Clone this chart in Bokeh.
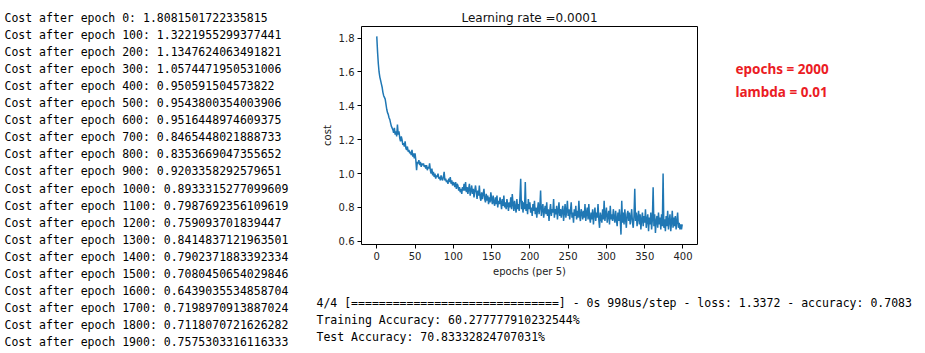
from bokeh.plotting import figure
from bokeh.models import Label, Range1d, SingleIntervalTicker, PrintfTickFormatter, ColumnDataSource
from bokeh.layouts import row, column
from bokeh.embed import file_html
from bokeh.resources import INLINE

# ---------------- data ----------------
epoch_steps = [0, 100, 200, 300, 400, 500, 600, 700, 800, 900,
               1000, 1100, 1200, 1300, 1400, 1500, 1600, 1700, 1800, 1900]
epoch_costs = ["1.8081501722335815", "1.3221955299377441", "1.1347624063491821",
               "1.0574471950531006", "0.950591504573822", "0.9543800354003906",
               "0.9516448974609375", "0.8465448021888733", "0.8353669047355652",
               "0.9203358292579651", "0.8933315277099609",
               "0.7987692356109619", "0.759093701839447", "0.8414837121963501",
               "0.7902371883392334", "0.7080450654029846", "0.6439035534858704",
               "0.7198970913887024", "0.7118070721626282", "0.7575303316116333"]

cost_curve = [
    1.81, 1.72, 1.65, 1.60, 1.57, 1.55, 1.53, 1.51, 1.48, 1.46,
    1.45, 1.44, 1.41, 1.38, 1.36, 1.35, 1.33, 1.32, 1.30, 1.28,
    1.27, 1.26, 1.24, 1.27, 1.23, 1.25, 1.22, 1.29, 1.23, 1.25,
    1.21, 1.19, 1.22, 1.20, 1.17, 1.18, 1.16, 1.19, 1.15, 1.14,
    1.16, 1.13, 1.14, 1.12, 1.13, 1.11, 1.14, 1.10, 1.12, 1.09,
    1.12, 1.08, 1.02, 1.07, 1.06, 1.08, 1.05, 1.07, 1.04, 1.06,
    1.05, 1.06, 1.04, 1.05, 1.03, 1.05, 1.02, 1.04, 1.03, 1.06,
    1.02, 1.00, 1.03, 0.99, 1.01, 0.98, 1.00, 0.97, 0.99, 0.98,
    1.00, 0.97, 0.98, 0.96, 0.99, 0.97, 0.96, 0.98, 1.01, 0.96,
    0.97, 0.95, 0.96, 0.94, 0.97, 0.95, 0.98, 0.94, 0.96, 0.93,
    0.95, 0.94, 0.92, 0.95, 0.91, 0.94, 0.93, 0.90, 0.92, 0.89,
    0.91, 0.88, 0.92, 0.90, 0.94, 0.90, 0.95, 0.89, 0.92, 0.88,
    0.91, 0.94, 0.87, 0.90, 0.93, 0.88, 0.91, 0.86, 0.90, 0.93,
    0.89, 0.85, 0.90, 0.87, 0.93, 0.86, 0.84, 0.89, 0.85, 0.88,
    0.91, 0.85, 0.83, 0.88, 0.84, 0.87, 0.82, 0.86, 0.83, 0.89,
    0.85, 0.82, 0.87, 0.83, 0.81, 0.86, 0.82, 0.87, 0.80, 0.84,
    0.82, 0.86, 0.83, 0.79, 0.85, 0.81, 0.87, 0.80, 0.83, 0.79,
    0.85, 0.82, 0.78, 0.83, 0.80, 0.86, 0.79, 0.88, 0.82, 0.78,
    0.84, 0.80, 0.77, 0.85, 0.79, 0.82, 0.78, 0.86, 0.97, 0.79,
    0.84, 0.77, 0.83, 0.79, 0.95, 0.78, 0.82, 0.76, 0.85, 0.79,
    0.83, 0.77, 0.80, 0.75, 0.82, 0.78, 0.84, 0.76, 0.80, 0.74,
    0.79, 0.83, 0.76, 0.80, 0.90, 0.75, 0.79, 0.82, 0.74, 0.78,
    0.81, 0.76, 0.83, 0.75, 0.79, 0.72, 0.78, 0.82, 0.75, 0.79,
    0.77, 0.85, 0.74, 0.79, 0.76, 0.81, 0.73, 0.78, 0.83, 0.75,
    0.79, 0.74, 0.78, 0.81, 0.72, 0.77, 0.82, 0.74, 0.78, 0.84,
    0.75, 0.79, 0.73, 0.78, 0.83, 0.74, 0.77, 0.71, 0.79, 0.75,
    0.81, 0.73, 0.78, 0.74, 0.84, 0.75, 0.72, 0.79, 0.77, 0.73,
    0.78, 0.74, 0.82, 0.72, 0.77, 0.80, 0.73, 0.82, 0.74, 0.71,
    0.77, 0.73, 0.79, 0.70, 0.76, 0.80, 0.72, 0.77, 0.74, 0.82,
    0.73, 0.68, 0.77, 0.74, 0.71, 0.79, 0.73, 0.84, 0.72, 0.76,
    0.80, 0.71, 0.75, 0.78, 0.70, 0.81, 0.73, 0.76, 0.72, 0.79,
    0.74, 0.71, 0.78, 0.73, 0.69, 0.77, 0.72, 0.79, 0.73, 0.64,
    0.84, 0.71, 0.77, 0.70, 0.79, 0.73, 0.68, 0.76, 0.78, 0.72,
    0.77, 0.70, 0.74, 0.79, 0.71, 0.68, 0.75, 0.91, 0.72, 0.77,
    0.69, 0.74, 0.78, 0.70, 0.76, 0.67, 0.73, 0.77, 0.69, 0.75,
    0.71, 0.79, 0.68, 0.73, 0.76, 0.66, 0.74, 0.70, 0.77, 0.67,
    0.73, 0.92, 0.69, 0.76, 0.65, 0.72, 0.75, 0.68, 0.77, 0.70,
    0.74, 0.67, 0.76, 0.69, 1.00, 0.68, 0.73, 0.66, 0.75, 0.69,
    0.78, 0.67, 0.72, 0.76, 0.66, 0.71, 0.78, 0.68, 0.74, 0.69,
    0.75, 0.67, 0.72, 0.77, 0.68, 0.71, 0.67, 0.70, 0.67, 0.70,
]
epoch_index = list(range(len(cost_curve)))

chart_title = "Learning rate =0.0001"
x_label = "epochs (per 5)"
y_label = "cost"
param_lines = ["epochs = 2000", "lambda = 0.01"]
eval_lines = [
    "4/4 [==============================] - 0s 998us/step - loss: 1.3372 - accuracy: 0.7083",
    "Training Accuracy: 60.277777910232544%",
    "Test Accuracy: 70.83332824707031%",
]

MONO = "DejaVu Sans Mono"

# chart panel geometry (pixels)
CH_W, CH_H = 410, 285
B_LEFT, B_RIGHT, B_TOP, B_BOTTOM = 51, 23, 26, 41


def text_panel(w, h, top=0, bottom=0):
    """A blank figure whose data space equals its pixel space (y downward)."""
    f = figure(width=w, height=h, output_backend="svg", toolbar_location=None,
               x_range=Range1d(0, w), y_range=Range1d(h - bottom, top),
               min_border_left=0, min_border_right=0,
               min_border_top=top, min_border_bottom=bottom)
    f.axis.visible = False
    f.grid.visible = False
    f.outline_line_color = None
    f.background_fill_color = "white"
    f.border_fill_color = "white"
    return f


# ---------------- left: cost log ----------------
left = text_panel(310, 353)
for i, (step, c) in enumerate(zip(epoch_steps, epoch_costs)):
    left.add_layout(Label(x=4, y=17 + i * 17.1, text=f"Cost after epoch {step}: {c}",
                          text_font=MONO, text_font_size="11.5px", text_color="black",
                          text_baseline="middle", text_align="left"))

# ---------------- chart ----------------
n = len(cost_curve)
ymin, ymax = min(cost_curve), max(cost_curve)
xpad = 0.05 * (n - 1)
ypad = 0.05 * (ymax - ymin)

p = figure(width=CH_W, height=CH_H, output_backend="svg", toolbar_location=None,
           x_range=Range1d(-xpad, (n - 1) + xpad),
           y_range=Range1d(ymin - ypad, ymax + ypad),
           min_border_left=B_LEFT, min_border_right=B_RIGHT,
           min_border_top=B_TOP, min_border_bottom=B_BOTTOM)
p.background_fill_color = "white"
p.border_fill_color = "white"
p.outline_line_color = "black"
p.outline_line_width = 1
p.grid.visible = False

p.title.text = chart_title
p.title.align = "center"
p.title.text_font = "DejaVu Sans"
p.title.text_font_size = "12px"
p.title.text_font_style = "normal"
p.title.text_color = "#111111"
p.title.standoff = 4

src = ColumnDataSource(dict(x=epoch_index, y=cost_curve))
p.line("x", "y", source=src, line_color="#1f77b4", line_width=1.5)

for ax in (p.xaxis[0], p.yaxis[0]):
    ax.axis_line_color = None
    ax.major_tick_in = 0
    ax.major_tick_out = 4
    ax.minor_tick_line_color = None
    ax.major_tick_line_color = "black"
    ax.major_label_text_font = "DejaVu Sans"
    ax.major_label_text_font_size = "10px"
    ax.major_label_text_color = "#222222"
    ax.major_label_standoff = 3
    ax.axis_label_text_font = "DejaVu Sans"
    ax.axis_label_text_font_size = "10px"
    ax.axis_label_text_font_style = "normal"
    ax.axis_label_text_color = "#222222"

p.xaxis[0].ticker = SingleIntervalTicker(interval=50)
p.xaxis[0].formatter = PrintfTickFormatter(format="%d")
p.xaxis[0].axis_label = x_label
p.xaxis[0].axis_label_standoff = 3
p.yaxis[0].ticker = SingleIntervalTicker(interval=0.2)
p.yaxis[0].formatter = PrintfTickFormatter(format="%.1f")
p.yaxis[0].axis_label = y_label
p.yaxis[0].axis_label_standoff = 3

# ---------------- right: parameters in red ----------------
# same top/bottom borders as the chart, so the row keeps the data->pixel mapping 1:1
right = text_panel(205, CH_H, top=B_TOP, bottom=B_BOTTOM)
for i, line in enumerate(param_lines):
    right.add_layout(Label(x=15, y=68 + i * 23, text=line,
                           text_font="Noto Sans", text_font_size="13.5px",
                           text_font_style="bold", text_color="#eb1c24",
                           text_baseline="middle", text_align="left"))

# ---------------- bottom: evaluation log ----------------
bottom = text_panel(615, 68)
for i, line in enumerate(eval_lines):
    bottom.add_layout(Label(x=6, y=17 + i * 17, text=line,
                            text_font=MONO, text_font_size="11.5px", text_color="black",
                            text_baseline="middle", text_align="left"))

layout = row(left, column(row(p, right), bottom))
open("out.html", "w").write(file_html(layout, INLINE))
